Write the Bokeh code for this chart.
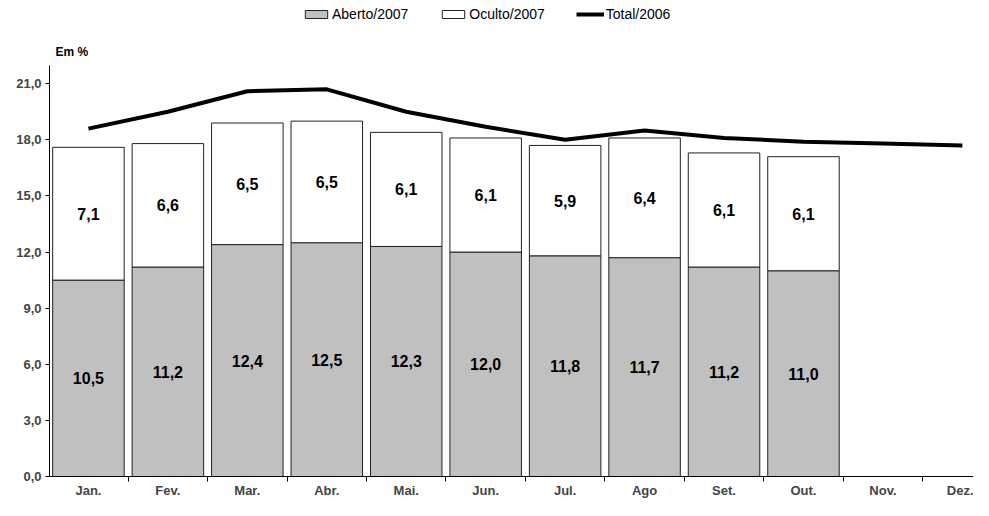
from bokeh.plotting import figure
from bokeh.models import ColumnDataSource, Range1d, FixedTicker, Legend, LegendItem, Label
from bokeh.core.properties import value
from bokeh.embed import file_html
from bokeh.resources import INLINE

months = ["Jan.", "Fev.", "Mar.", "Abr.", "Mai.", "Jun.", "Jul.", "Ago", "Set.", "Out.", "Nov.", "Dez."]
aberto_2007 = [10.5, 11.2, 12.4, 12.5, 12.3, 12.0, 11.8, 11.7, 11.2, 11.0]
oculto_2007 = [7.1, 6.6, 6.5, 6.5, 6.1, 6.1, 5.9, 6.4, 6.1, 6.1]
total_2006 = [18.6, 19.5, 20.6, 20.7, 19.5, 18.7, 18.0, 18.5, 18.1, 17.9, 17.8, 17.7]
y_ticks = [0, 3, 6, 9, 12, 15, 18, 21]
y_axis_max = 22

FONT_NAME = "Liberation Sans"
FONT = value(FONT_NAME)


def fmt(v):
    return f"{v:.1f}".replace(".", ",")


n = len(aberto_2007)
xs = list(range(n))
tops = [a + o for a, o in zip(aberto_2007, oculto_2007)]
src = ColumnDataSource(dict(
    x=xs,
    aberto=aberto_2007,
    top=tops,
    mid_a=[a / 2 for a in aberto_2007],
    mid_o=[a + o / 2 for a, o in zip(aberto_2007, oculto_2007)],
    lab_a=[fmt(v) for v in aberto_2007],
    lab_o=[fmt(v) for v in oculto_2007],
))

p = figure(width=973, height=500, output_backend="svg", toolbar_location=None,
           x_range=Range1d(-0.49, 11.14), y_range=Range1d(0, 25.45),
           min_border_left=49, min_border_right=0, min_border_top=0, min_border_bottom=10)
p.outline_line_color = None
p.grid.visible = False
p.background_fill_color = "white"
p.border_fill_color = "white"

r_a = p.vbar(x="x", bottom=0, top="aberto", width=0.9, source=src,
             fill_color="#C0C0C0", line_color="#222222", line_width=1)
r_o = p.vbar(x="x", bottom="aberto", top="top", width=0.9, source=src,
             fill_color="white", line_color="#222222", line_width=1)
r_t = p.line(x=list(range(len(total_2006))), y=total_2006, line_color="black", line_width=4)

for col_y, col_t in (("mid_a", "lab_a"), ("mid_o", "lab_o")):
    p.text(x="x", y=col_y, text=col_t, source=src, text_align="center", text_baseline="middle",
           text_font=FONT, text_font_style="bold", text_font_size="16px", text_color="black")

xa = p.xaxis[0]
xa.ticker = FixedTicker(ticks=list(range(len(months))), minor_ticks=[i - 0.5 for i in range(len(months) + 1)])
xa.major_label_overrides = {i: m for i, m in enumerate(months)}
xa.major_tick_out = 0
xa.major_tick_in = 0
xa.minor_tick_out = 5
xa.minor_tick_in = 0
xa.major_label_standoff = 1
xa.major_label_text_font = FONT_NAME
xa.major_label_text_font_style = "bold"
xa.major_label_text_font_size = "13px"
xa.axis_line_color = "black"
xa.minor_tick_line_color = "black"

ya = p.yaxis[0]
ya.ticker = FixedTicker(ticks=y_ticks)
ya.bounds = (0, y_axis_max)
ya.major_label_overrides = {t: fmt(t) for t in y_ticks}
ya.major_tick_out = 4
ya.major_tick_in = 0
ya.minor_tick_line_color = None
ya.major_label_standoff = 4
ya.major_label_text_font = FONT_NAME
ya.major_label_text_font_style = "bold"
ya.major_label_text_font_size = "13px"
ya.axis_line_color = "black"
ya.major_tick_line_color = "black"

p.add_layout(Label(x=6, y=425, x_units="screen", y_units="screen", text="Em %",
                   text_font=FONT_NAME, text_font_style="bold", text_font_size="12px",
                   text_baseline="middle", text_color="black"))

legend = Legend(items=[
    LegendItem(label="Aberto/2007", renderers=[r_a]),
    LegendItem(label="Oculto/2007", renderers=[r_o]),
    LegendItem(label="Total/2006", renderers=[r_t]),
], orientation="horizontal", location=(253, 454), glyph_width=28, glyph_height=10,
    label_height=14, label_standoff=2, spacing=31, padding=0, margin=0,
    border_line_color=None, background_fill_alpha=0,
    label_text_font=FONT_NAME, label_text_font_size="14px", label_text_color="black")
p.add_layout(legend)

open("out.html", "w").write(file_html(p, INLINE))
